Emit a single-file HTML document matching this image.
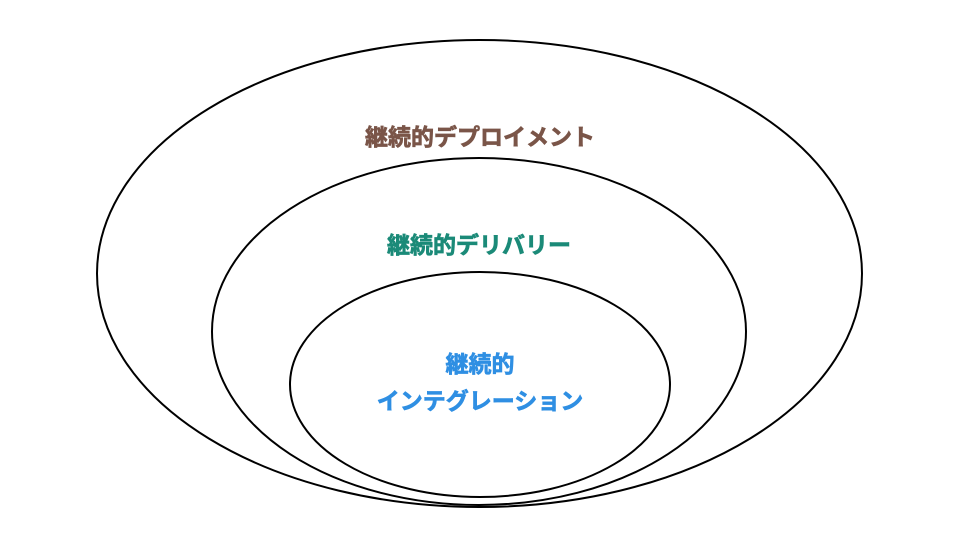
<!DOCTYPE html>
<html><head><meta charset="utf-8"><style>
body{margin:0;background:#fff;width:960px;height:540px;overflow:hidden}
</style></head><body>
<svg width="960" height="540" xmlns="http://www.w3.org/2000/svg">
<g fill="none" stroke="#000" stroke-width="2">
<ellipse cx="479.5" cy="273.5" rx="382.5" ry="233.5"/>
<ellipse cx="479" cy="331.5" rx="267" ry="173.5"/>
<ellipse cx="480" cy="384.5" rx="190" ry="112.5"/>
</g>
<g font-family="'Liberation Sans','Noto Sans CJK JP',sans-serif" font-weight="bold" text-anchor="middle" font-size="23" stroke-width="0.7">
<text x="480" y="145" fill="#7a5548" stroke="#7a5548">継続的デプロイメント</text>
<text x="479" y="253" fill="#1b8a78" stroke="#1b8a78">継続的デリバリー</text>
<text x="480" y="372" fill="#2f8fe3" stroke="#2f8fe3">継続的</text>
<text x="480" y="409" fill="#2f8fe3" stroke="#2f8fe3">インテグレーション</text>
</g>
</svg>
</body></html>
